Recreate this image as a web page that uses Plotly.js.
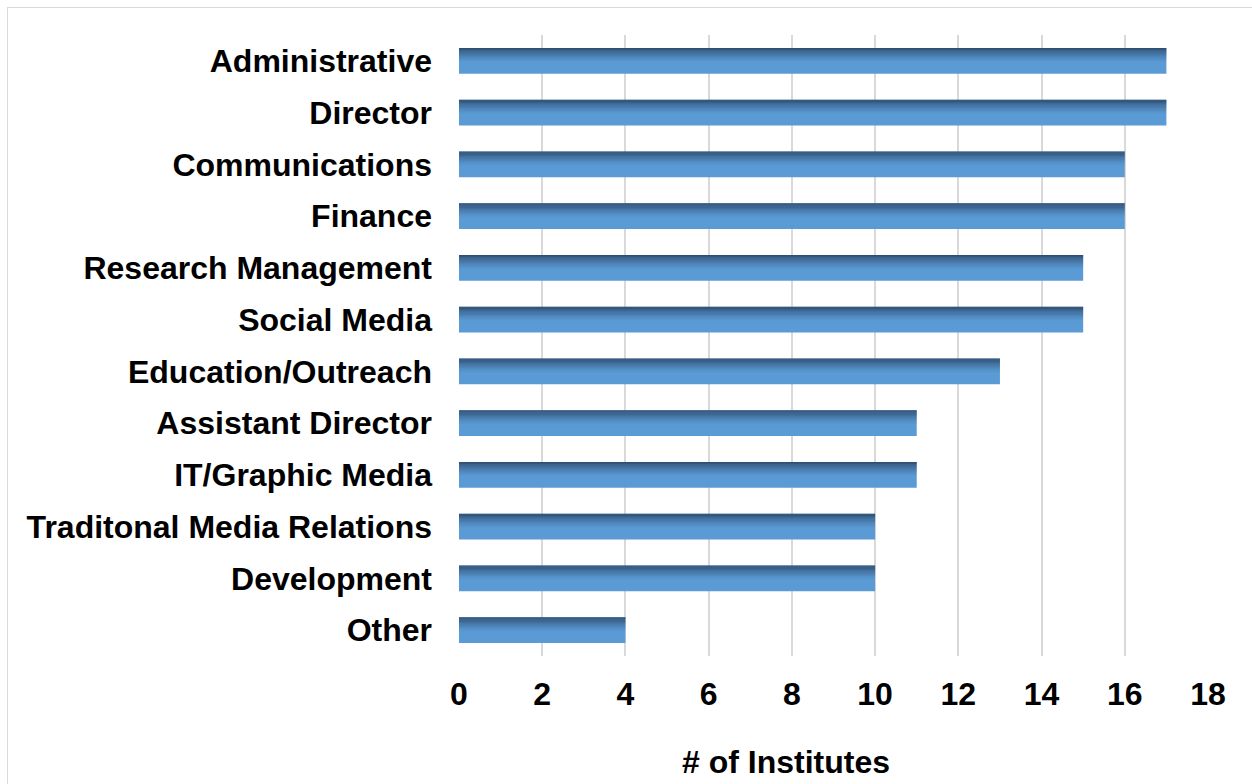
<!DOCTYPE html>
<html>
<head>
<meta charset="utf-8">
<script src="https://cdn.plot.ly/plotly-3.0.1.min.js"></script>
<style>
  html, body { margin: 0; padding: 0; background: #fff; }
  #wrap { position: relative; width: 1252px; height: 784px; overflow: hidden; }
  #frame { position: absolute; left: 7px; top: 7px; width: 1300px; height: 900px;
           border-left: 1.5px solid #D9D9D9; border-top: 1.5px solid #D9D9D9; pointer-events: none; }
  #chart { position: absolute; left: 0; top: 0; width: 1252px; height: 784px; }
</style>
</head>
<body>
<div id="wrap">
  <div id="chart"></div>
  <div id="frame"></div>
</div>
<script>
const categories = [
  "Administrative", "Director", "Communications", "Finance",
  "Research Management", "Social Media", "Education/Outreach",
  "Assistant Director", "IT/Graphic Media", "Traditonal Media Relations",
  "Development", "Other"
];
const institutes = [17, 17, 16, 16, 15, 15, 13, 11, 11, 10, 10, 4];
const xTicks = [0, 2, 4, 6, 8, 10, 12, 14, 16, 18];
const xAxisTitle = "# of Institutes";

const FONT = "Liberation Sans, Arial, sans-serif";
const FS = 32;
const BAR_W = 0.5;

const traces = [{
  type: "bar", orientation: "h",
  y: categories, x: institutes,
  width: BAR_W,
  marker: { color: "#5B9BD5", line: { width: 0 } },
  hoverinfo: "skip"
}];

// top shading (gradient simulated by thin overlaid strips)
const N = 12;
const shadeH = BAR_W * 0.55;
for (let k = 0; k < N; k++) {
  const a = 0.7 * Math.pow(1 - k / N, 1.4);
  traces.push({
    type: "bar", orientation: "h",
    y: categories, x: institutes,
    width: shadeH / N,
    offset: -BAR_W / 2 + k * shadeH / N,
    marker: { color: `rgba(28,45,70,${a.toFixed(3)})`, line: { width: 0 } },
    hoverinfo: "skip"
  });
}

const layout = {
  width: 1252, height: 784,
  margin: { l: 459, r: 44, t: 35, b: 128 },
  paper_bgcolor: "rgba(0,0,0,0)",
  plot_bgcolor: "rgba(0,0,0,0)",
  barmode: "overlay",
  showlegend: false,
  hovermode: false,
  font: { family: FONT, color: "#000" },
  xaxis: {
    range: [0, 18],
    tickvals: xTicks,
    ticktext: xTicks.map(String),
    showgrid: true, gridcolor: "#D9D9D9", gridwidth: 2,
    zeroline: false, showline: false,
    ticks: "", ticklabelstandoff: 16,
    tickfont: { family: FONT, size: FS, weight: "bold", color: "#000" }
  },
  yaxis: {
    type: "category",
    autorange: "reversed",
    showgrid: false, zeroline: false, showline: false,
    ticks: "", ticklabelstandoff: 26,
    tickfont: { family: FONT, size: FS, weight: "bold", color: "#000" }
  },
  annotations: [{
    text: xAxisTitle, showarrow: false,
    xref: "paper", yref: "paper",
    x: 0.4366, y: -0.1707, xanchor: "center", yanchor: "middle",
    font: { family: FONT, size: FS, weight: "bold", color: "#000" }
  }]
};

Plotly.newPlot("chart", traces, layout, { staticPlot: true, displayModeBar: false });
</script>
</body>
</html>
